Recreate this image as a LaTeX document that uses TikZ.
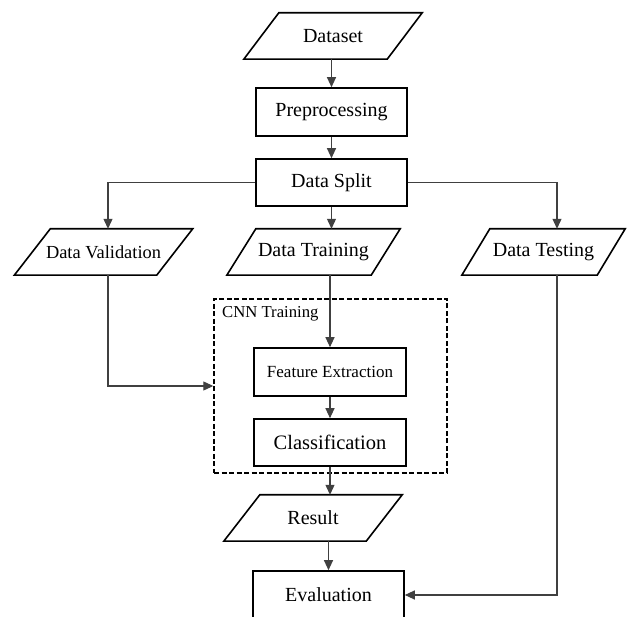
\documentclass[tikz,border=0pt]{standalone}
\usepackage{fontspec}
\setmainfont{Liberation Serif}
\usetikzlibrary{arrows.meta}
\begin{document}
\begin{tikzpicture}[x=1pt,y=-1pt,
  base/.style={inner sep=0pt, font=\fontsize{20}{24}\selectfont},
  box/.style={base, draw, line width=1.6pt, minimum height=47pt},
  io/.style={base, minimum height=46pt},
  paraline/.style={draw, line width=1.6pt, line join=miter},
  conn/.style={line width=1.1pt, draw=black!75, -{Triangle[length=10pt,width=9pt]}},
  plain/.style={line width=1.1pt, draw=black!75}]
\useasboundingbox (0,0) rectangle (627,617);

\node[io, minimum width=143pt] (ds) at (333,36) {Dataset};
\node[box, minimum width=151pt, minimum height=48pt] (pre) at (331.5,112) {Preprocessing};
\node[box, minimum width=151pt] (split) at (331.5,182.5) {Data Split};
\node[io, minimum width=142pt, font=\fontsize{18.4}{22}\selectfont] (dv) at (103.5,252) {Data Validation};
\node[io, minimum width=144pt] (dt) at (313.5,252) {Data Training};
\node[io, minimum width=135pt] (dte) at (543.5,252) {Data Testing};
\node[draw, dash pattern=on 5pt off 2.5pt, line width=1.4pt, minimum width=233pt, minimum height=174pt, inner sep=0pt] (cnn) at (330.5,386) {};
\node[anchor=west, inner sep=0pt, font=\fontsize{16.7}{20}\selectfont] (cnnlab) at (222,314) {CNN Training};
\node[box, minimum width=152pt, minimum height=48pt, font=\fontsize{17}{20}\selectfont] (fe) at (330,372) {Feature Extraction};
\node[box, minimum width=152pt, font=\fontsize{20.5}{24}\selectfont] (cl) at (330,442.5) {Classification};
\node[io, minimum width=142pt] (res) at (313,518) {Result};
\node[box, minimum width=151pt, minimum height=48pt] (ev) at (328.5,595) {Evaluation};

% parallelogram outlines
\foreach \n/\s in {ds/17.5,dv/18,dt/14.5,dte/14,res/18}
  \draw[paraline] ([xshift=\s pt]\n.north west) -- ([xshift=\s pt]\n.north east)
     -- ([xshift=-\s pt]\n.south east) -- ([xshift=-\s pt]\n.south west) -- cycle;

% connectors
\draw[conn] (ds.south -| pre.north) -- (pre.north);
\draw[conn] (pre.south) -- (split.north);
\draw[conn] (split.west) -| ([xshift=4.5pt]dv.north);
\draw[conn] (split.south) -- (split.south |- dt.north);
\draw[conn] (split.east) -| ([xshift=13.5pt]dte.north);
\draw[conn] ([xshift=4.5pt]dv.south) |- (cnn.west);
\draw[conn] (dt.south -| fe.north) -- (fe.north);
\draw[conn] (fe.south) -- (cl.north);
\draw[conn] (cl.south) -- (cl.south |- res.north);
\draw[conn] (res.south -| ev.north) -- (ev.north);
\draw[conn] ([xshift=13.5pt]dte.south) |- (ev.east);
\end{tikzpicture}
\end{document}
